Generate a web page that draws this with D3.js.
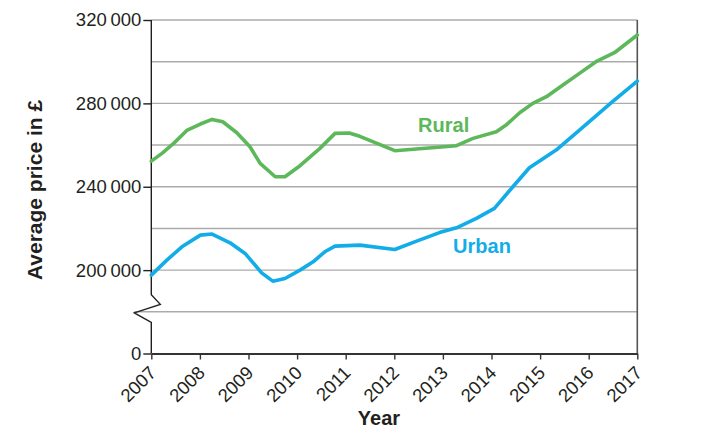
<!DOCTYPE html>
<html>
<head>
<meta charset="utf-8">
<script src="https://cdn.jsdelivr.net/npm/d3@7"></script>
<style>
  html, body { margin: 0; padding: 0; background: #fff; }
  svg { display: block; font-family: "Liberation Sans", Arial, sans-serif; }
</style>
</head>
<body>
<svg id="chart" width="712" height="433"></svg>
<script>
// ---- data ----
const years = [2007, 2008, 2009, 2010, 2011, 2012, 2013, 2014, 2015, 2016, 2017];
const ruralYears = [2007.0, 2007.22, 2007.46, 2007.73, 2008.01, 2008.25, 2008.47, 2008.76, 2009.03, 2009.24, 2009.55, 2009.75, 2010.06, 2010.47, 2010.78, 2011.07, 2011.29, 2012.01, 2013.28, 2013.62, 2014.10, 2014.30, 2014.58, 2014.85, 2015.13, 2015.47, 2015.81, 2016.15, 2016.53, 2017.0];
const ruralValues = [252300, 256000, 260800, 267000, 270100, 272300, 271200, 265900, 259200, 251200, 244800, 244800, 250100, 258400, 265600, 265800, 264200, 257300, 259700, 263200, 266400, 269600, 275500, 280000, 283200, 288800, 294400, 300000, 304300, 312800];
const urbanYears = [2007.0, 2007.32, 2007.63, 2008.01, 2008.25, 2008.62, 2008.93, 2009.27, 2009.50, 2009.75, 2010.06, 2010.33, 2010.57, 2010.78, 2011.29, 2012.01, 2012.46, 2012.93, 2013.28, 2013.69, 2014.06, 2014.44, 2014.78, 2015.33, 2015.81, 2016.49, 2017.0];
const urbanValues = [197600, 204800, 211200, 216800, 217300, 213100, 208000, 198700, 194700, 196000, 200000, 204000, 208800, 211500, 212000, 209900, 213900, 218000, 220300, 224800, 229600, 240000, 249100, 257600, 267200, 280800, 290700];
const yTickValues = [160000, 200000, 240000, 280000, 320000];   // 160000 = broken-axis floor shown as 0
const yTickLabels = ["0", "200\u2009000", "240\u2009000", "280\u2009000", "320\u2009000"];
const gridValues = [180000, 200000, 220000, 240000, 260000, 280000, 300000, 320000];
const seriesNames = ["Rural", "Urban"];
const labelPos = [{year: 2012.49, value: 266100}, {year: 2013.21, value: 208200}];

// ---- layout ----
const svg = d3.select("#chart");
const x = d3.scaleLinear().domain([2007, 2017]).range([151.3, 637.3]);
const y = d3.scaleLinear().domain([160000, 320000]).range([353.5, 20]);
const textCol = "#231f20";

// gridlines
svg.append("g").selectAll("line").data(gridValues).join("line")
  .attr("x1", d => d === 180000 ? x(2007) - 17 : x(2007))
  .attr("x2", x(2017))
  .attr("y1", d => y(d)).attr("y2", d => y(d))
  .attr("stroke", "#ababab").attr("stroke-width", 1.4);

// right border
svg.append("line")
  .attr("x1", x(2017)).attr("x2", x(2017))
  .attr("y1", y(320000)).attr("y2", y(160000))
  .attr("stroke", "#555").attr("stroke-width", 1.6);

// y axis with ticks
const yAxis = d3.axisLeft(y).tickValues(yTickValues)
  .tickFormat((d, i) => yTickLabels[i]).tickSize(8).tickPadding(2);
const gy = svg.append("g").attr("transform", `translate(${x(2007)},0)`).call(yAxis);
gy.select(".domain").remove();
gy.selectAll(".tick line").attr("stroke", textCol).attr("stroke-width", 1.4);
gy.selectAll(".tick text").attr("fill", textCol)
  .style("font-size", "18.5px").style("font-family", "Liberation Sans, Arial, sans-serif");

// broken y axis line
const x0 = x(2007), yb = y(180000);
const axisPath = d3.path();
axisPath.moveTo(x0, y(320000));
axisPath.lineTo(x0, yb - 17);
axisPath.lineTo(x0 + 9, yb - 7.5);
axisPath.lineTo(x0 - 17, yb + 1);
axisPath.lineTo(x0, yb + 10.5);
axisPath.lineTo(x0, y(160000));
svg.append("path").attr("d", axisPath.toString())
  .attr("fill", "none").attr("stroke", textCol).attr("stroke-width", 1.4);

// x axis
const xAxis = d3.axisBottom(x).tickValues(years).tickFormat(d3.format("d")).tickSize(6).tickSizeOuter(0);
const gx = svg.append("g").attr("transform", `translate(0,${y(160000)})`).call(xAxis);
gx.select(".domain").attr("stroke", "#333").attr("stroke-width", 2);
gx.selectAll(".tick line").attr("stroke", "#333").attr("stroke-width", 1.4);
gx.selectAll(".tick text").attr("fill", textCol)
  .style("font-size", "18.5px").style("font-family", "Liberation Sans, Arial, sans-serif")
  .attr("text-anchor", "end")
  .attr("y", 0)
  .attr("dy", "0.35em")
  .attr("transform", "translate(1,16) rotate(-45)");

// lines
const line = d3.line().x(d => x(d[0])).y(d => y(d[1])).curve(d3.curveLinear);
const ruralData = d3.zip(ruralYears, ruralValues);
const urbanData = d3.zip(urbanYears, urbanValues);
const colors = ["#5cb85a", "#12ade8"];
[ruralData, urbanData].forEach((data, i) => {
  svg.append("path").datum(data).attr("d", line)
    .attr("fill", "none").attr("stroke", colors[i]).attr("stroke-width", 3.6)
    .attr("stroke-linejoin", "round").attr("stroke-linecap", "round");
});

// series labels
svg.append("g").selectAll("text").data(seriesNames).join("text")
  .attr("x", (d, i) => x(labelPos[i].year))
  .attr("y", (d, i) => y(labelPos[i].value))
  .attr("fill", (d, i) => colors[i])
  .style("font-size", "20px").style("font-weight", "bold")
  .text(d => d);

// axis titles
svg.append("text")
  .attr("transform", `translate(42,${190}) rotate(-90)`)
  .attr("text-anchor", "middle").attr("fill", textCol)
  .style("font-size", "21px").style("font-weight", "bold")
  .text("Average price in £");
svg.append("text")
  .attr("x", 379).attr("y", 425)
  .attr("text-anchor", "middle").attr("fill", textCol)
  .style("font-size", "20px").style("font-weight", "bold")
  .text("Year");
</script>
</body>
</html>
